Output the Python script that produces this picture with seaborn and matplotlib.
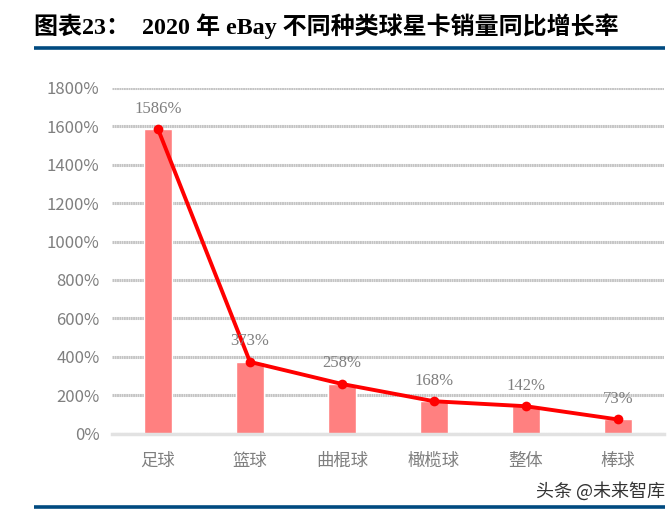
import pandas as pd
import seaborn as sns
import matplotlib.pyplot as plt
from matplotlib.lines import Line2D
from matplotlib.ticker import MultipleLocator, PercentFormatter

categories = ['足球', '篮球', '曲棍球', '橄榄球', '整体', '棒球']
growth = [1586, 373, 258, 168, 142, 73]

title = '图表23：  2020 年 eBay 不同种类球星卡销量同比增长率'
source = '头条 @未来智库'

df = pd.DataFrame({'category': categories, 'growth': growth})

sns.set_theme(style='white')
plt.rcParams['font.family'] = ['Noto Sans CJK SC', 'DejaVu Sans']

W, H = 672, 514
fig = plt.figure(figsize=(W / 100, H / 100), dpi=100)
ax = fig.add_axes([112 / W, 1 - 433.5 / H, 552 / W, 345.5 / H])

# bars and line share the category axis
sns.barplot(data=df, x='category', y='growth', color='#ff8080', saturation=1,
            width=0.31, ax=ax, zorder=2)
sns.lineplot(data=df, x='category', y='growth', color='#ff0000', linewidth=2.8,
             marker='o', markersize=7, markeredgewidth=0, ax=ax, zorder=3)

for i, v in enumerate(growth):
    ax.annotate(f'{v}%', (i, v), xytext=(0, 9), textcoords='offset points',
                ha='center', va='bottom', fontsize=12, color='#7f7f7f',
                family=['Liberation Serif'], zorder=4)

ax.set_xlim(-0.5, 5.5)
ax.set_ylim(0, 1800)
ax.yaxis.set_major_locator(MultipleLocator(200))
ax.yaxis.set_major_formatter(PercentFormatter(decimals=0))
ax.set_xlabel('')
ax.set_ylabel('')
ax.grid(axis='y', color='#c4c4c4', linewidth=2.2, linestyle=(0, (0.6, 0.15)), zorder=1)
ax.set_axisbelow(True)
ax.tick_params(axis='both', length=0, labelcolor='#7f7f7f')
ax.tick_params(axis='y', labelsize=12, pad=9)
ax.tick_params(axis='x', labelsize=12.5, pad=13)
for side in ['top', 'right', 'left']:
    ax.spines[side].set_visible(False)
ax.spines['bottom'].set_color('#e2e2e2')
ax.spines['bottom'].set_linewidth(2.5)

# title, rules and source sit on the figure
fig.text(34 / W, 1 - 26 / H, title, fontsize=17.3, fontweight='bold', color='black',
         va='center', ha='left', family=['Liberation Serif', 'Noto Sans CJK SC'])
for y in (47.5, 507):
    fig.add_artist(Line2D([34 / W, 665 / W], [1 - y / H, 1 - y / H], color='#004a80',
                          linewidth=2.6, solid_capstyle='butt', transform=fig.transFigure))
fig.text(665 / W, 1 - 491 / H, source, fontsize=13, color='#333333', va='center', ha='right')

fig.savefig('out.png', dpi=100)
